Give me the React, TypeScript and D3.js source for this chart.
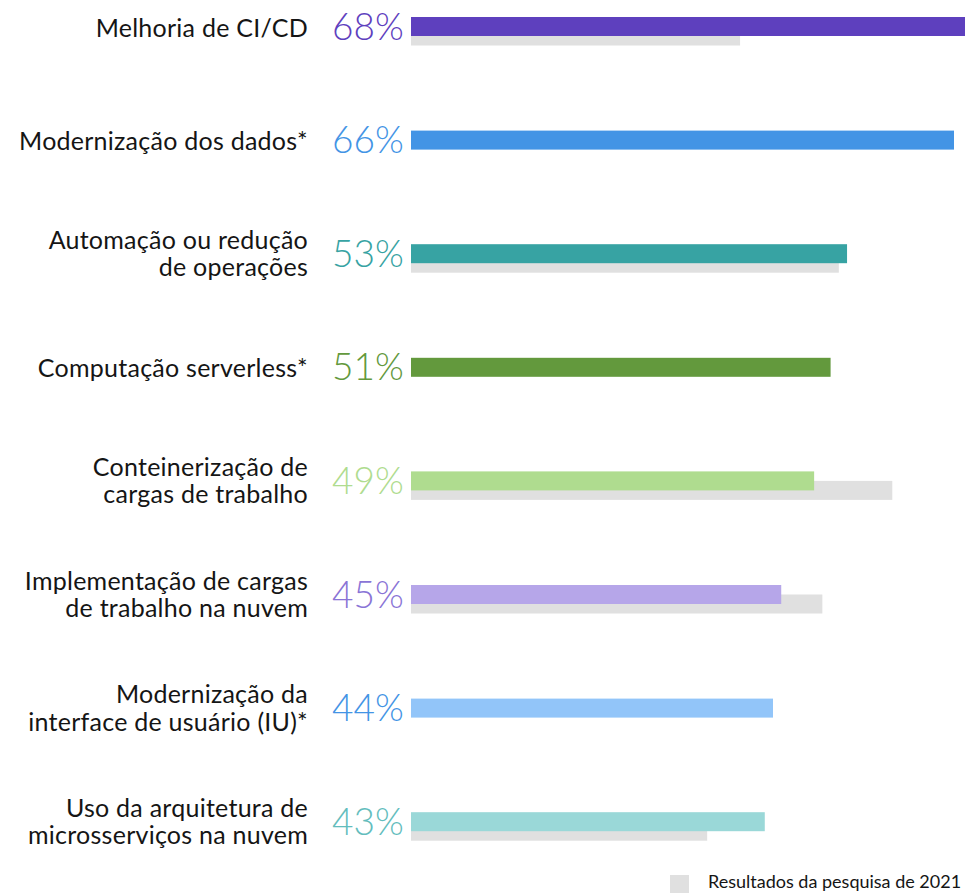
import React, { useEffect, useRef } from 'react';
import * as d3 from 'd3';

const categories = [
  ['Melhoria de CI/CD'],
  ['Modernização dos dados*'],
  ['Automação ou redução', 'de operações'],
  ['Computação serverless*'],
  ['Conteinerização de', 'cargas de trabalho'],
  ['Implementação de cargas', 'de trabalho na nuvem'],
  ['Modernização da', 'interface de usuário (IU)*'],
  ['Uso da arquitetura de', 'microsserviços na nuvem'],
];
const values2023 = [68, 66, 53, 51, 49, 45, 44, 43];
const values2021: (number | null)[] = [40, null, 52, null, 58.5, 50, null, 36];
const barColors = ['#5e40be', '#4394e5', '#37a3a3', '#63993d', '#afdc8f', '#b6a6e9', '#92c5f9', '#9ad8d8'];
const textColors = ['#5e40be', '#4394e5', '#37a3a3', '#63993d', '#afdc8f', '#8a74d6', '#4394e5', '#63bdbd'];
const legendLabel = 'Resultados da pesquisa de 2021';

const W = 965;
const H = 893;

export default function App() {
  const svgRef = useRef<SVGSVGElement>(null);

  useEffect(() => {
    if (!svgRef.current) return;
    const svg = d3.select(svgRef.current).html('');
    const font = 'Lato, "Noto Sans", sans-serif';

    const idx = d3.range(categories.length);
    const x = d3.scaleLinear().domain([0, 66]).range([411, 954]);
    const y = d3.scaleBand<number>().domain(idx).range([17, 17 + 113.6 * idx.length]);
    const barH = 19;

    const rows = svg.selectAll('g.row').data(idx).join('g').attr('class', 'row');

    // 2021 bars, slightly lower, drawn first
    rows.filter(i => values2021[i] != null)
      .append('rect')
      .attr('x', x(0))
      .attr('y', i => y(i)! + 9.5)
      .attr('width', i => x(values2021[i] as number) - x(0))
      .attr('height', barH)
      .attr('fill', '#e0e0e0');

    rows.append('rect')
      .attr('x', x(0))
      .attr('y', i => y(i)!)
      .attr('width', i => x(values2023[i]) - x(0))
      .attr('height', barH)
      .attr('fill', i => barColors[i]);

    rows.append('text')
      .attr('x', 332)
      .attr('y', i => y(i)! + 22.5)
      .attr('font-family', font)
      .attr('font-weight', 300)
      .attr('font-size', 37)
      .attr('letter-spacing', 0)
      .attr('fill', i => textColors[i])
      .text(i => `${values2023[i]}%`);

    rows.each(function (i) {
      const lines = categories[i];
      const top = y(i)!;
      const base = lines.length === 1 ? [top + 19.5] : [top + 4.5, top + 32];
      const g = d3.select(this);
      lines.forEach((l, k) => g.append('text')
        .attr('x', 308)
        .attr('y', base[k])
        .attr('text-anchor', 'end')
        .attr('font-family', font)
        .attr('font-size', 25)
        .attr('letter-spacing', 0.25)
        .attr('fill', '#151515')
        .text(l));
    });

    // legend
    svg.append('rect').attr('x', 670).attr('y', 875).attr('width', 19).attr('height', 19).attr('fill', '#e0e0e0');
    svg.append('text')
      .attr('x', 708).attr('y', 888)
      .attr('font-family', font).attr('font-size', 18)
      .attr('fill', '#151515')
      .text(legendLabel);
  }, []);

  return (
    <svg
      ref={svgRef}
      width={W}
      height={H}
      style={{ position: 'absolute', left: 0, top: 0, background: '#fff' }}
    />
  );
}
